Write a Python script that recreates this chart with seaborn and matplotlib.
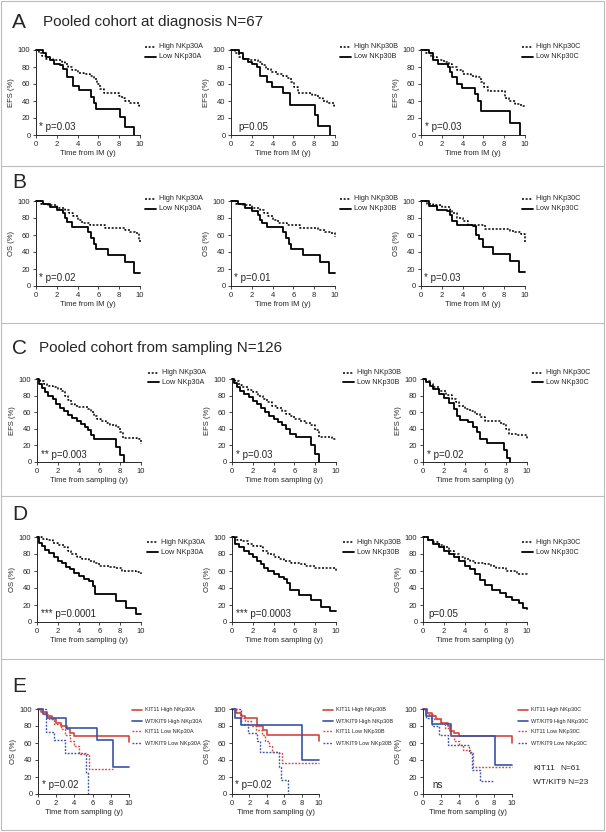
import matplotlib
matplotlib.use("Agg")
import matplotlib.pyplot as plt
import seaborn as sns
from matplotlib.lines import Line2D

# ---- data: Kaplan-Meier step points (time in years, survival %) ----
# A: EFS, pooled cohort at diagnosis
a1_hi_t = [0, 0.3, 0.6, 1.0, 1.6, 2.5, 2.8, 3.1, 3.5, 4.0, 4.6, 5.2, 5.6, 5.9, 6.2, 6.5, 8.0, 8.3, 8.6, 9.0, 9.9, 10]
a1_hi_s = [100, 96, 93, 90, 88, 86, 83, 80, 76, 73, 72, 70, 66, 60, 54, 49, 46, 43, 40, 38, 34, 34]
a1_lo_t = [0, 0.7, 1.0, 1.3, 1.7, 2.3, 2.6, 3.0, 3.6, 4.1, 5.3, 5.6, 5.8, 8.1, 8.6, 9.4]
a1_lo_s = [100, 96, 92, 88, 84, 82, 78, 68, 58, 53, 45, 38, 31, 21, 10, 0]
a2_hi_t = [0, 0.4, 0.8, 1.2, 1.8, 2.6, 3.0, 3.4, 3.8, 4.4, 5.0, 5.4, 5.8, 6.1, 6.4, 7.8, 8.4, 8.8, 9.2, 9.9, 10]
a2_hi_s = [100, 96, 92, 90, 88, 86, 82, 78, 74, 72, 70, 67, 62, 56, 50, 47, 44, 40, 38, 34, 34]
a2_lo_t = [0, 0.8, 1.2, 1.6, 2.0, 2.5, 2.8, 3.45, 3.9, 5.0, 5.7, 8.1, 8.4, 9.5]
a2_lo_s = [100, 96, 90, 86, 84, 80, 70, 62, 56, 49, 35, 23, 11, 0]
a3_hi_t = [0, 0.5, 1.0, 1.5, 2.2, 2.7, 3.0, 3.5, 4.0, 4.8, 5.3, 5.8, 6.1, 6.4, 8.1, 8.5, 9.0, 9.6, 10]
a3_hi_s = [100, 96, 92, 88, 86, 84, 80, 76, 72, 70, 68, 62, 56, 52, 44, 40, 37, 34, 33]
a3_lo_t = [0, 0.8, 1.2, 1.6, 2.6, 2.8, 3.0, 3.5, 3.9, 5.2, 5.5, 5.8, 8.6, 9.5]
a3_lo_s = [100, 96, 88, 84, 80, 74, 68, 60, 55, 48, 40, 28, 14, 0]

# B: OS, pooled cohort at diagnosis
b1_hi_t = [0, 0.5, 1.2, 2.0, 2.8, 3.2, 3.6, 4.0, 4.4, 5.2, 6.6, 8.6, 9.0, 9.5, 9.9, 10]
b1_hi_s = [100, 97, 95, 92, 90, 86, 82, 78, 74, 72, 68, 66, 64, 62, 54, 52]
b1_lo_t = [0, 0.7, 1.3, 2.0, 2.6, 2.8, 3.0, 3.5, 5.0, 5.3, 5.6, 5.8, 6.9, 8.6, 9.4, 10]
b1_lo_s = [100, 97, 93, 90, 86, 80, 75, 70, 64, 57, 50, 43, 36, 28, 15, 15]
b2_hi_t = [0, 0.5, 1.2, 2.0, 2.8, 3.2, 3.6, 4.0, 4.5, 5.4, 6.6, 8.4, 9.0, 9.6, 10]
b2_hi_s = [100, 97, 95, 92, 90, 86, 82, 78, 74, 72, 68, 66, 64, 62, 58]
b2_lo_t = [0, 0.7, 1.3, 2.0, 2.6, 2.8, 3.0, 3.5, 5.0, 5.3, 5.6, 5.8, 6.9, 8.6, 9.4, 10]
b2_lo_s = [100, 96, 92, 88, 84, 78, 74, 70, 64, 57, 50, 43, 36, 28, 15, 15]
b3_hi_t = [0, 0.6, 1.2, 2.0, 2.8, 3.0, 3.5, 4.0, 4.5, 6.2, 8.6, 9.0, 9.6, 10]
b3_hi_s = [100, 97, 95, 93, 90, 86, 80, 76, 72, 67, 65, 63, 61, 52]
b3_lo_t = [0, 0.8, 1.5, 2.5, 2.8, 3.0, 3.5, 5.0, 5.3, 5.6, 6.0, 6.9, 8.6, 9.4, 10]
b3_lo_s = [100, 94, 90, 88, 84, 76, 72, 71, 60, 55, 46, 38, 30, 16, 16]

# C: EFS, pooled cohort from sampling
c1_hi_t = [0, 0.3, 0.7, 1.0, 1.5, 2.0, 2.4, 2.7, 3.0, 3.3, 3.7, 4.0, 4.9, 5.2, 5.5, 5.8, 6.2, 6.6, 7.0, 7.6, 8.0, 8.3, 9.6, 10]
c1_hi_s = [100, 97, 94, 92, 90, 88, 85, 80, 75, 70, 68, 66, 64, 60, 56, 52, 50, 47, 44, 42, 36, 29, 28, 22]
c1_lo_t = [0, 0.2, 0.5, 0.8, 1.1, 1.5, 1.8, 2.2, 2.6, 3.0, 3.4, 3.8, 4.2, 4.6, 4.9, 5.2, 5.5, 7.6, 8.0, 8.4]
c1_lo_s = [100, 94, 89, 84, 80, 76, 70, 65, 61, 57, 53, 49, 46, 42, 38, 33, 28, 18, 9, 0]
c2_hi_t = [0, 0.3, 0.7, 1.0, 1.5, 2.0, 2.5, 3.0, 3.4, 3.8, 4.3, 4.8, 5.2, 5.6, 6.0, 6.5, 7.0, 7.6, 8.0, 8.4, 9.6, 10]
c2_hi_s = [100, 97, 93, 90, 87, 84, 80, 76, 72, 68, 65, 62, 58, 55, 52, 50, 47, 44, 38, 30, 28, 27]
c2_lo_t = [0, 0.2, 0.5, 0.8, 1.2, 1.6, 2.0, 2.4, 2.8, 3.2, 3.6, 4.0, 4.4, 4.8, 5.2, 5.6, 6.2, 7.6, 8.0, 8.4]
c2_lo_s = [100, 95, 90, 86, 82, 78, 74, 70, 65, 60, 56, 52, 48, 44, 40, 34, 30, 20, 10, 0]
c3_hi_t = [0, 0.3, 0.7, 1.0, 1.5, 2.2, 2.8, 3.2, 3.5, 4.0, 4.5, 5.0, 5.5, 6.0, 7.0, 7.5, 8.0, 8.3, 9.0, 10]
c3_hi_s = [100, 97, 94, 90, 86, 81, 76, 72, 67, 64, 61, 58, 54, 50, 49, 46, 40, 34, 32, 28]
c3_lo_t = [0, 0.3, 0.7, 1.0, 1.5, 2.0, 2.5, 3.0, 3.3, 3.6, 4.3, 4.8, 5.2, 5.5, 6.2, 7.8, 8.1, 8.4]
c3_lo_s = [100, 96, 92, 88, 82, 77, 71, 64, 56, 51, 48, 42, 36, 28, 23, 15, 5, 0]

# D: OS, pooled cohort from sampling
d1_hi_t = [0, 0.5, 1.0, 1.5, 2.0, 2.6, 3.0, 3.3, 3.8, 4.3, 5.0, 5.5, 6.0, 7.0, 7.6, 8.2, 9.5, 10]
d1_hi_s = [100, 98, 96, 93, 91, 88, 84, 80, 77, 74, 72, 70, 66, 65, 63, 60, 59, 56]
d1_lo_t = [0, 0.2, 0.5, 0.8, 1.2, 1.6, 2.0, 2.4, 2.8, 3.2, 3.6, 4.0, 4.5, 5.0, 5.4, 5.6, 7.6, 8.6, 9.5, 10]
d1_lo_s = [100, 93, 89, 85, 81, 77, 72, 69, 65, 62, 58, 54, 51, 48, 42, 33, 25, 16, 9, 9]
d2_hi_t = [0, 0.5, 1.0, 1.5, 2.0, 2.8, 3.0, 3.5, 4.0, 4.5, 5.0, 5.7, 6.5, 7.0, 8.0, 9.0, 10]
d2_hi_s = [100, 97, 95, 92, 90, 88, 84, 80, 77, 74, 72, 70, 68, 66, 64, 63, 60]
d2_lo_t = [0, 0.3, 0.7, 1.2, 1.6, 2.0, 2.4, 2.8, 3.1, 3.5, 4.0, 4.5, 5.0, 5.3, 5.6, 6.4, 7.6, 8.6, 9.4, 10]
d2_lo_s = [100, 92, 88, 84, 80, 76, 72, 68, 64, 60, 56, 53, 51, 46, 38, 32, 26, 18, 13, 13]
d3_hi_t = [0, 0.5, 1.0, 1.5, 2.0, 2.5, 3.0, 3.5, 4.0, 4.5, 5.0, 6.0, 6.5, 7.0, 8.0, 9.0, 10]
d3_hi_s = [100, 97, 94, 91, 88, 84, 80, 76, 74, 72, 70, 68, 66, 64, 60, 57, 54]
d3_lo_t = [0, 0.5, 1.0, 1.5, 2.0, 2.5, 3.0, 3.5, 4.0, 4.5, 5.0, 5.5, 6.0, 6.6, 7.4, 8.0, 8.6, 9.2, 9.6, 10]
d3_lo_s = [100, 96, 92, 88, 84, 80, 76, 72, 66, 62, 56, 50, 44, 38, 34, 30, 26, 22, 16, 15]

# E: OS by KIT genotype and NKp30 level
e1_kh_t = [0, 0.3, 1.0, 1.5, 2.0, 2.5, 3.2, 3.5, 4.0, 9.9, 10]
e1_kh_s = [100, 96, 92, 88, 84, 80, 76, 72, 68, 68, 61]
e1_wh_t = [0, 0.6, 1.0, 3.1, 6.5, 8.2, 10]
e1_wh_s = [100, 94, 90, 78, 64, 32, 32]
e1_kl_t = [0, 0.5, 1.2, 1.8, 2.5, 3.0, 3.5, 4.0, 4.5, 5.6, 8.2]
e1_kl_s = [100, 94, 88, 82, 76, 70, 62, 56, 47, 30, 30]
e1_wl_t = [0, 0.9, 1.8, 3.0, 5.3, 5.5]
e1_wl_s = [100, 73, 63, 48, 25, 0]
e2_kh_t = [0, 0.5, 1.0, 1.5, 2.9, 3.6, 4.0, 9.8, 10]
e2_kh_s = [100, 95, 92, 90, 80, 75, 70, 70, 62]
e2_wh_t = [0, 0.3, 1.0, 8.0, 10]
e2_wh_s = [100, 90, 81, 40, 40]
e2_kl_t = [0, 0.5, 1.0, 1.5, 2.2, 2.8, 3.4, 3.8, 4.2, 4.6, 5.4, 5.7, 10]
e2_kl_s = [100, 96, 90, 86, 80, 75, 70, 62, 56, 50, 48, 37, 37]
e2_wl_t = [0, 1.0, 1.8, 2.9, 3.2, 5.4, 5.6, 6.4]
e2_wl_s = [100, 82, 72, 62, 49, 32, 17, 0]
e3_kh_t = [0, 0.5, 1.0, 1.5, 2.0, 2.8, 3.0, 3.5, 4.0, 9.9, 10]
e3_kh_s = [100, 95, 92, 88, 84, 80, 74, 72, 68, 68, 60]
e3_wh_t = [0, 0.3, 1.0, 3.1, 8.1, 10]
e3_wh_s = [100, 92, 82, 68, 34, 34]
e3_kl_t = [0, 0.5, 1.2, 2.0, 2.5, 3.0, 3.5, 4.0, 4.5, 5.3, 5.6, 10]
e3_kl_s = [100, 94, 88, 84, 78, 70, 62, 58, 52, 48, 32, 32]
e3_wl_t = [0, 0.3, 1.0, 1.8, 2.8, 5.2, 5.5, 6.4, 8.0]
e3_wl_s = [100, 90, 80, 70, 58, 50, 28, 15, 15]

markers = ["A", "B", "C"]
p_a = ["* p=0.03", "p=0.05", "* p=0.03"]
p_b = ["* p=0.02", "* p=0.01", "* p=0.03"]
p_c = ["** p=0.003", "* p=0.03", "* p=0.02"]
p_d = ["*** p=0.0001", "*** p=0.0003", "p=0.05"]
p_e = ["* p=0.02", "* p=0.02", "ns"]

# ---- figure ----
sns.set_style("ticks")
plt.rcParams["font.family"] = ["Liberation Sans", "DejaVu Sans"]

W, H = 606, 832
fig = plt.figure(figsize=(W / 100, H / 100), dpi=100)

RED = "#d6463e"
BLUE = "#3a54a5"
HI_LS = (0, (1.3, 1.1))


def fx(x):
    return x / W


def fy(y):
    return 1 - y / H


def new_ax(x0, top, w, h):
    return fig.add_axes([fx(x0), fy(top + h), w / W, h / H])


def km(ax, t, s, color, ls, lw):
    sns.lineplot(x=t, y=s, ax=ax, color=color, linestyle=ls, linewidth=lw,
                 drawstyle="steps-post", estimator=None, sort=False, clip_on=False)


def style(ax, ylab, xlab, fs=5.5):
    ax.set_xlim(0, 10)
    ax.set_ylim(0, 100)
    ax.set_xticks(range(0, 11, 2))
    ax.set_yticks(range(0, 101, 20))
    sns.despine(ax=ax)
    ax.tick_params(labelsize=fs, length=2.5, width=0.6, pad=1.5)
    for sp in ax.spines.values():
        sp.set_linewidth(0.7)
    ax.set_ylabel(ylab, fontsize=fs, labelpad=2)
    ax.set_xlabel(xlab, fontsize=fs, labelpad=2)


def leg(x, y, color, ls, lw, label, fs=5.2, L=11):
    fig.add_artist(Line2D([fx(x - L - 3), fx(x - 3)], [fy(y), fy(y)], color=color, ls=ls, lw=lw))
    fig.text(fx(x), fy(y), label, fontsize=fs, va="center", ha="left")


# frame and separators
for yy in [1, 166, 323, 496, 659, 830]:
    fig.add_artist(Line2D([fx(1), fx(604)], [fy(yy), fy(yy)], color="#bdbdbd", lw=0.8))
for xx in [1, 604]:
    fig.add_artist(Line2D([fx(xx), fx(xx)], [fy(1), fy(830)], color="#bdbdbd", lw=0.8))

# section labels
fig.text(fx(12), fy(22), "A", fontsize=15, va="center", ha="left")
fig.text(fx(43), fy(22), "Pooled cohort at diagnosis N=67", fontsize=11, va="center", ha="left")
fig.text(fx(12), fy(182), "B", fontsize=15, va="center", ha="left")
fig.text(fx(12), fy(348), "C", fontsize=15, va="center", ha="left")
fig.text(fx(39), fy(348), "Pooled cohort from sampling N=126", fontsize=11, va="center", ha="left")
fig.text(fx(12), fy(515), "D", fontsize=15, va="center", ha="left")
fig.text(fx(12), fy(687), "E", fontsize=15, va="center", ha="left")

# rows A-D
rows = [
    # top, h, xs, curves, p, ylabel, xlabel, legend text x, legend y hi/lo, p x
    (50, 85, [36, 231, 421], [(a1_hi_t, a1_hi_s, a1_lo_t, a1_lo_s), (a2_hi_t, a2_hi_s, a2_lo_t, a2_lo_s),
                              (a3_hi_t, a3_hi_s, a3_lo_t, a3_lo_s)],
     p_a, "EFS (%)", "Time from IM (y)", [159, 354, 536], (47, 57), [0.3, 0.7, 0.4]),
    (201, 85, [36, 231, 421], [(b1_hi_t, b1_hi_s, b1_lo_t, b1_lo_s), (b2_hi_t, b2_hi_s, b2_lo_t, b2_lo_s),
                               (b3_hi_t, b3_hi_s, b3_lo_t, b3_lo_s)],
     p_b, "OS (%)", "Time from IM (y)", [159, 354, 536], (199, 209), [0.3, 0.3, 0.3]),
    (379, 83, [37, 232, 423], [(c1_hi_t, c1_hi_s, c1_lo_t, c1_lo_s), (c2_hi_t, c2_hi_s, c2_lo_t, c2_lo_s),
                               (c3_hi_t, c3_hi_s, c3_lo_t, c3_lo_s)],
     p_c, "EFS (%)", "Time from sampling (y)", [162, 357, 546], (373, 382), [0.4, 0.4, 0.4]),
    (537, 85, [37, 232, 423], [(d1_hi_t, d1_hi_s, d1_lo_t, d1_lo_s), (d2_hi_t, d2_hi_s, d2_lo_t, d2_lo_s),
                               (d3_hi_t, d3_hi_s, d3_lo_t, d3_lo_s)],
     p_d, "OS (%)", "Time from sampling (y)", [161, 357, 536], (542, 552), [0.4, 0.4, 0.5]),
]
for top, h, xs, curves, ps, ylab, xlab, lx, ly, px in rows:
    for i in range(3):
        ax = new_ax(xs[i], top, 104, h)
        ht, hs, lt, ls_ = curves[i]
        km(ax, ht, hs, "black", HI_LS, 1.1)
        km(ax, lt, ls_, "black", "-", 1.3)
        style(ax, ylab, xlab)
        ax.text(px[i], 9, ps[i], fontsize=7, va="center", ha="left")
        leg(lx[i], ly[0], "black", HI_LS, 1.1, "High NKp30" + markers[i])
        leg(lx[i], ly[1], "black", "-", 1.3, "Low NKp30" + markers[i])

# row E
e_curves = [
    (e1_kh_t, e1_kh_s, e1_wh_t, e1_wh_s, e1_kl_t, e1_kl_s, e1_wl_t, e1_wl_s),
    (e2_kh_t, e2_kh_s, e2_wh_t, e2_wh_s, e2_kl_t, e2_kl_s, e2_wl_t, e2_wl_s),
    (e3_kh_t, e3_kh_s, e3_wh_t, e3_wh_s, e3_kl_t, e3_kl_s, e3_wl_t, e3_wl_s),
]
e_geom = [(38, 91), (232, 87), (423, 89)]
e_lx = [145, 336, 531]
e_ly = [710, 721, 731, 743]
e_px = [0.4, 0.4, 1.1]
for i in range(3):
    x0, w = e_geom[i]
    ax = new_ax(x0, 709, w, 85)
    kht, khs, wht, whs, klt, kls, wlt, wls = e_curves[i]
    km(ax, kht, khs, RED, "-", 1.2)
    km(ax, wht, whs, BLUE, "-", 1.2)
    km(ax, klt, kls, RED, HI_LS, 1.0)
    km(ax, wlt, wls, BLUE, HI_LS, 1.0)
    style(ax, "OS (%)", "Time from sampling (y)")
    ax.text(e_px[i], 10, p_e[i], fontsize=7, va="center", ha="left")
    m = markers[i]
    leg(e_lx[i], e_ly[0], RED, "-", 1.2, "KIT11 High NKp30" + m, fs=4.0, L=10)
    leg(e_lx[i], e_ly[1], BLUE, "-", 1.2, "WT/KIT9 High NKp30" + m, fs=4.0, L=10)
    leg(e_lx[i], e_ly[2], RED, HI_LS, 1.0, "KIT11 Low NKp30" + m, fs=4.0, L=10)
    leg(e_lx[i], e_ly[3], BLUE, HI_LS, 1.0, "WT/KIT9 Low NKp30" + m, fs=4.0, L=10)

fig.text(fx(533), fy(768), "KIT11", fontsize=6, va="center", ha="left")
fig.text(fx(560), fy(768), "N=61", fontsize=6, va="center", ha="left")
fig.text(fx(533), fy(783), "WT/KIT9 N=23", fontsize=6, va="center", ha="left")

fig.savefig("out.png", dpi=100)
